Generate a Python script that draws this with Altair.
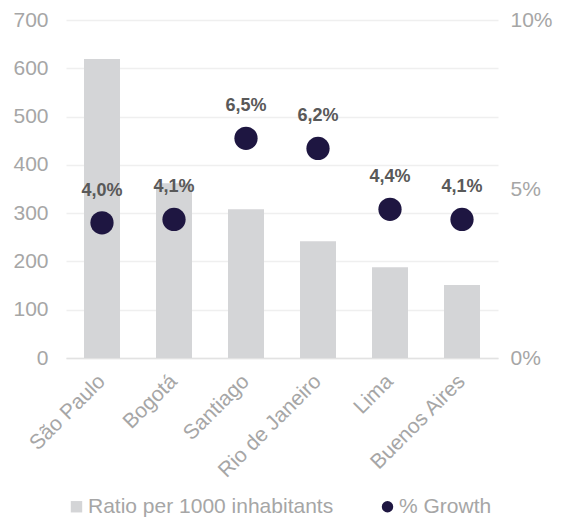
import altair as alt
import pandas as pd

cities = ["São Paulo", "Bogotá", "Santiago", "Rio de Janeiro", "Lima", "Buenos Aires"]
ratio = [619, 362, 308, 242, 188, 151]
growth = [0.040, 0.041, 0.065, 0.062, 0.044, 0.041]
series = ["Ratio per 1000 inhabitants", "% Growth"]

labels = [f"{g*100:.1f}%".replace(".", ",") for g in growth]

df = pd.DataFrame({
    "city": cities,
    "ratio": ratio,
    "growth": growth,
    "label": labels,
    "s_bar": series[0],
    "s_pt": series[1],
})

FONT = "Liberation Sans"
AX = "#a6a6a6"
GRAY = "#d4d5d7"
NAVY = "#1e1641"
FS = 21

color_scale = alt.Scale(domain=series, range=[GRAY, NAVY])
shape_scale = alt.Scale(domain=series, range=["square", "circle"])

x = alt.X("city:N", sort=cities, title=None,
          scale=alt.Scale(paddingInner=0.5, paddingOuter=0.25),
          axis=alt.Axis(labelAngle=-45, labelFontSize=FS, labelColor=AX,
                        labelFont=FONT, ticks=False, domain=True,
                        domainColor="#e2e2e2", domainWidth=1.5,
                        labelPadding=20, labelAlign="right", labelBaseline="middle"))

legend = alt.Legend(title=None, orient="none", legendX=0, legendY=476,
                    direction="horizontal", labelFontSize=FS, labelColor=AX,
                    labelFont=FONT, symbolSize=130, columnPadding=43,
                    symbolStrokeWidth=0, labelOffset=1, labelLimit=400)

bars = alt.Chart(df).mark_bar().encode(
    x=x,
    y=alt.Y("ratio:Q", title=None,
            scale=alt.Scale(domain=[0, 700], nice=False),
            axis=alt.Axis(values=list(range(0, 701, 100)), labelFontSize=FS,
                          labelColor=AX, labelFont=FONT, ticks=False,
                          domain=False, labelPadding=18, gridColor="#efefef",
                          gridWidth=1.5, orient="left")),
    color=alt.Color("s_bar:N", scale=color_scale, legend=legend),
)

points = alt.Chart(df).mark_point(filled=True, size=540, opacity=1).encode(
    x=x,
    y=alt.Y("growth:Q", title=None,
            scale=alt.Scale(domain=[0, 0.1], nice=False),
            axis=alt.Axis(values=[0, 0.05, 0.1], format=".0%", labelFontSize=FS,
                          labelColor=AX, labelFont=FONT, ticks=False,
                          domain=False, grid=False, labelPadding=12,
                          orient="right")),
    color=alt.Color("s_pt:N", scale=color_scale, legend=legend),
    shape=alt.Shape("s_pt:N", scale=shape_scale, legend=legend),
)

text = alt.Chart(df).mark_text(fontSize=18, fontWeight="bold", color="#595959",
                               font=FONT, dy=-32, baseline="middle").encode(
    x=x,
    y=alt.Y("growth:Q", scale=alt.Scale(domain=[0, 0.1], nice=False), axis=None),
    text="label:N",
)

chart = alt.layer(bars, points, text).resolve_scale(
    y="independent"
).properties(
    width=432, height=338,
    autosize=alt.AutoSizeParams(type="none"),
    padding={"left": 58, "top": 12, "right": 55, "bottom": 160},
).configure_view(stroke=None)

chart.save("out.html", embed_options={"renderer": "svg", "actions": False})
